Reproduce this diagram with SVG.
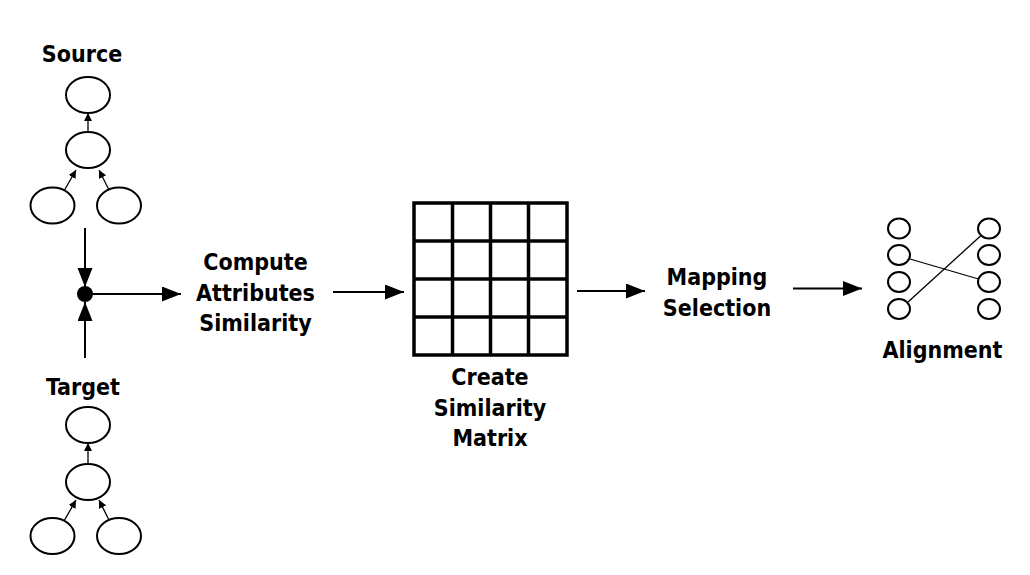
<svg xmlns="http://www.w3.org/2000/svg" width="1030" height="575" viewBox="0 0 1030 575">
  <style>
    .lbl { font-family: "DejaVu Sans Condensed", "DejaVu Sans", sans-serif; font-stretch: condensed; font-weight: bold; font-size: 23px; fill: #000; text-anchor: middle; }
    .node { fill: #fff; stroke: #000; stroke-width: 2; }
    .small { fill: #fff; stroke: #000; stroke-width: 2; }
    .edge { fill: none; stroke: #000; stroke-width: 2; }
    .thin { fill: none; stroke: #000; stroke-width: 1.3; }
    .grid { fill: none; stroke: #000; stroke-width: 3.5; }
  </style>
  <defs>
    <marker id="big" markerUnits="userSpaceOnUse" markerWidth="20" markerHeight="16" refX="19" refY="7.5" orient="auto">
      <path d="M0,0 L19,7.5 L0,15 z" fill="#000"/>
    </marker>
    <marker id="sm" markerUnits="userSpaceOnUse" markerWidth="9" markerHeight="9" refX="8" refY="4" orient="auto">
      <path d="M0,0 L8,4 L0,8 z" fill="#000"/>
    </marker>
  </defs>
  <rect width="1030" height="575" fill="#fff"/>

  <g id="source">
    <text class="lbl" x="82" y="62">Source</text>
    <ellipse class="node" cx="88" cy="95" rx="22" ry="18"/>
    <ellipse class="node" cx="88" cy="150" rx="22" ry="18"/>
    <ellipse class="node" cx="52.5" cy="205.5" rx="22" ry="18"/>
    <ellipse class="node" cx="119" cy="205.5" rx="22" ry="18"/>
    <line class="thin" x1="88" y1="132" x2="88" y2="113" marker-end="url(#sm)"/>
    <line class="thin" x1="64" y1="191" x2="76" y2="170" marker-end="url(#sm)"/>
    <line class="thin" x1="109" y1="190" x2="99" y2="170" marker-end="url(#sm)"/>
  </g>

  <g id="target">
    <text class="lbl" x="83" y="395">Target</text>
    <ellipse class="node" cx="88" cy="425" rx="22" ry="18"/>
    <ellipse class="node" cx="88" cy="482" rx="22" ry="18"/>
    <ellipse class="node" cx="52.5" cy="536" rx="22" ry="18"/>
    <ellipse class="node" cx="119" cy="536" rx="22" ry="18"/>
    <line class="thin" x1="88" y1="464" x2="88" y2="443" marker-end="url(#sm)"/>
    <line class="thin" x1="64" y1="521" x2="76" y2="500" marker-end="url(#sm)"/>
    <line class="thin" x1="109" y1="520" x2="99" y2="500" marker-end="url(#sm)"/>
  </g>

  <g id="merge">
    <circle cx="85" cy="294" r="8" fill="#000"/>
  </g>

  <g id="compute">
    <text class="lbl" x="255.5" y="270">Compute</text>
    <text class="lbl" x="255.5" y="300.5">Attributes</text>
    <text class="lbl" x="255.5" y="331">Similarity</text>
  </g>

  <g id="matrix">
    <rect class="grid" x="414" y="203" width="153" height="152"/>
    <line class="grid" x1="452.5" y1="203" x2="452.5" y2="355"/>
    <line class="grid" x1="490.5" y1="203" x2="490.5" y2="355"/>
    <line class="grid" x1="528.5" y1="203" x2="528.5" y2="355"/>
    <line class="grid" x1="414" y1="241" x2="567" y2="241"/>
    <line class="grid" x1="414" y1="279" x2="567" y2="279"/>
    <line class="grid" x1="414" y1="317" x2="567" y2="317"/>
    <text class="lbl" x="490" y="385">Create</text>
    <text class="lbl" x="490" y="416">Similarity</text>
    <text class="lbl" x="490" y="446">Matrix</text>
  </g>

  <g id="mapping">
    <text class="lbl" x="717" y="285">Mapping</text>
    <text class="lbl" x="717" y="316">Selection</text>
  </g>

  <g id="alignment">
    <ellipse class="small" cx="899" cy="228.5" rx="11" ry="10"/>
    <ellipse class="small" cx="899" cy="255" rx="11" ry="10"/>
    <ellipse class="small" cx="899" cy="282" rx="11" ry="10"/>
    <ellipse class="small" cx="899" cy="309" rx="11" ry="10"/>
    <ellipse class="small" cx="989" cy="228.5" rx="11" ry="10"/>
    <ellipse class="small" cx="989" cy="255" rx="11" ry="10"/>
    <ellipse class="small" cx="989" cy="282" rx="11" ry="10"/>
    <ellipse class="small" cx="989" cy="309" rx="11" ry="10"/>
    <line class="thin" x1="910" y1="259" x2="978.5" y2="279"/>
    <line class="thin" x1="908" y1="302" x2="980.5" y2="236"/>
    <text class="lbl" x="942.5" y="358">Alignment</text>
  </g>

  <g id="connectors">
    <line class="edge" x1="85" y1="228" x2="85" y2="287" marker-end="url(#big)"/>
    <line class="edge" x1="85" y1="358" x2="85" y2="302" marker-end="url(#big)"/>
    <line class="edge" x1="85" y1="294" x2="181" y2="294" marker-end="url(#big)"/>
    <line class="edge" x1="333" y1="292" x2="404" y2="292" marker-end="url(#big)"/>
    <line class="edge" x1="577" y1="291" x2="645" y2="291" marker-end="url(#big)"/>
    <line class="edge" x1="793" y1="288.5" x2="862" y2="288.5" marker-end="url(#big)"/>
  </g>
</svg>
